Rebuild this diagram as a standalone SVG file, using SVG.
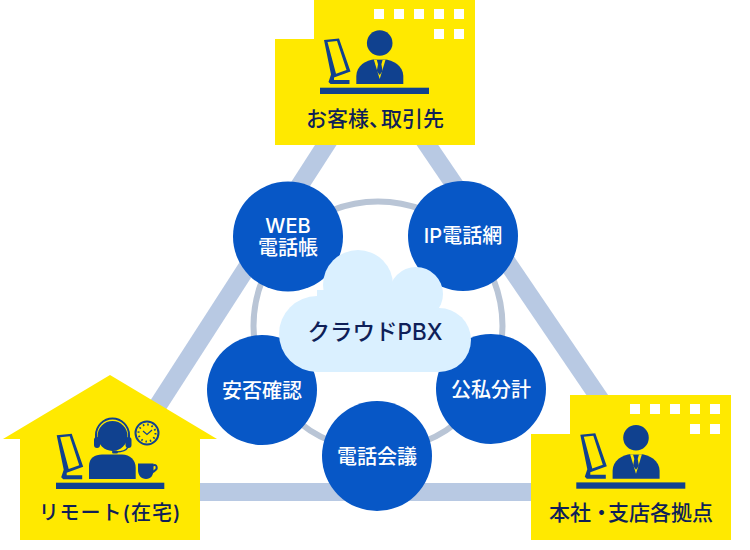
<svg xmlns="http://www.w3.org/2000/svg" width="750" height="550" viewBox="0 0 750 550">
<style>
text{font-family:Inter,"Noto Sans CJK JP",sans-serif;font-weight:500;text-anchor:middle}
.lab{fill:#0f1f58;font-size:21px}
.cir{fill:#0757c6}
.ct{fill:#fff;font-size:20px}
.yl{fill:#ffe900}
.ic{fill:#10418f}
.win{fill:#fff}
.band{stroke:#b8c9e3;stroke-width:18;fill:none}
</style>
<defs>
<g id="monitor">
<path class="ic" fill-rule="evenodd" d="M324 40L339 38.500L350.500 71.500L334 77.500V80H349.500V84H330.500L328.500 82L331 74.500ZM327.500 42L337 41L346.500 70L336 73.800Z"/>
</g>
<g id="worker">
<use href="#monitor"/>
<circle class="ic" cx="379.700" cy="43" r="12.800"/>
<path class="ic" d="M356.300 84V76C356.300 66 366 60 375 59.300H384C393 60 403.300 66 403.300 76V84Z"/>
<path d="M373.800 59.500H385.600L379.700 79Z" fill="#ffe900"/>
<path class="ic" d="M376.800 60H382.600L381.400 64.300L382.600 71L379.700 75L376.800 71L378 64.300Z"/>
<rect class="ic" x="320" y="87.700" width="109" height="6.300"/>
</g>
</defs>
<g id="connectors">
<path class="band" d="M329 140L155 410"/>
<path class="band" d="M424 140L604 405"/>
<path class="band" d="M195 492H540"/>
<circle cx="378" cy="326" r="124.500" fill="none" stroke="#b9c5d6" stroke-width="6"/>
</g>
<g id="node-web"><circle class="cir" cx="288" cy="236.500" r="55"/><text class="ct" x="288" y="233" style="font-size:20px">WEB</text><text class="ct" x="288" y="254.500">電話帳</text></g>
<g id="node-ip"><circle class="cir" cx="463" cy="236" r="55"/><text class="ct" x="463" y="242.500">IP電話網</text></g>
<g id="node-kousi"><circle class="cir" cx="491" cy="389" r="55"/><text class="ct" x="491" y="396.500">公私分計</text></g>
<g id="node-anpi"><circle class="cir" cx="262" cy="390" r="55"/><text class="ct" x="262" y="397.500">安否確認</text></g>
<g id="node-kaigi"><circle class="cir" cx="377" cy="456" r="55"/><text class="ct" x="377" y="463.500">電話会議</text></g>
<g id="node-cloud">
<g fill="#daf0ff">
<circle cx="358" cy="285" r="35"/><circle cx="416" cy="294" r="27"/><circle cx="317" cy="334" r="38"/><circle cx="439" cy="340" r="32"/>
<rect x="317" y="290" width="122" height="82"/>
</g>
<text x="375" y="340" fill="#0f1f58" style="font-size:22.500px">クラウドPBX</text>
</g>
<g id="node-client">
<path class="yl" d="M314 0H475V145H275V39H314Z"/>
<g class="win"><rect x="374" y="9" width="10" height="10"/><rect x="394" y="9" width="10" height="10"/><rect x="414" y="9" width="10" height="10"/><rect x="434" y="9" width="10" height="10"/><rect x="454" y="9" width="10" height="10"/><rect x="434" y="29" width="10" height="10"/><rect x="454" y="29" width="10" height="10"/></g>
<use href="#worker"/>
<text class="lab" x="375" y="126">お客様、<tspan dx="-9">取引先</tspan></text>
</g>
<g id="node-office">
<path class="yl" d="M570 395H731V540H531V434H570Z"/>
<g class="win"><rect x="630" y="404" width="10" height="10"/><rect x="650" y="404" width="10" height="10"/><rect x="670" y="404" width="10" height="10"/><rect x="690" y="404" width="10" height="10"/><rect x="710" y="404" width="10" height="10"/><rect x="690" y="424" width="10" height="10"/><rect x="710" y="424" width="10" height="10"/></g>
<use href="#worker" x="256.300" y="394.700"/>
<text class="lab" x="631" y="520">本社・<tspan dx="-4">支店各拠点</tspan></text>
</g>
<g id="node-remote">
<path class="yl" d="M110 375L217 439H200V540H20V439H3Z"/>
<use href="#monitor" x="-267.300" y="395.300"/>
<circle class="ic" cx="112.500" cy="436" r="15"/>
<path d="M96 442V435A16.500 16.500 0 0 1 129 435V442" fill="none" stroke="#10418f" stroke-width="2"/>
<rect class="ic" x="94" y="437" width="6" height="11" rx="3"/><rect class="ic" x="125.500" y="437" width="6" height="11" rx="3"/>
<path d="M128 447C126 451 122 452 116 452" fill="none" stroke="#10418f" stroke-width="1.500"/>
<rect class="ic" x="112" y="450.500" width="6" height="3" rx="1.500"/>
<path class="ic" d="M89 479V466C89 458 95 454.500 102 454.500H122C130 454.500 135.700 460 135.700 468V479Z"/>
<circle cx="147" cy="433" r="11.500" fill="#ffe900" stroke="#10418f" stroke-width="2"/>
<circle cx="147" cy="433" r="8.500" fill="none" stroke="#10418f" stroke-width="2" stroke-dasharray="1.500 2.950"/>
<path d="M143 431L147 434.500L152 430" fill="none" stroke="#10418f" stroke-width="1.200"/>
<path class="ic" d="M138 463.500H153.500V470C153.500 475 151 479 146 479C141 479 138 475 138 470Z"/>
<path d="M153 465.500C157 463.500 157.500 468.500 155.500 470C154.500 471 153 472 151.500 472.500" fill="none" stroke="#10418f" stroke-width="2"/>
<rect class="ic" x="56" y="482.700" width="108.300" height="6.300"/>
<text class="lab" x="110" y="520" style="font-size:20px" letter-spacing="1">リモート(在宅)</text>
</g>
</svg>
